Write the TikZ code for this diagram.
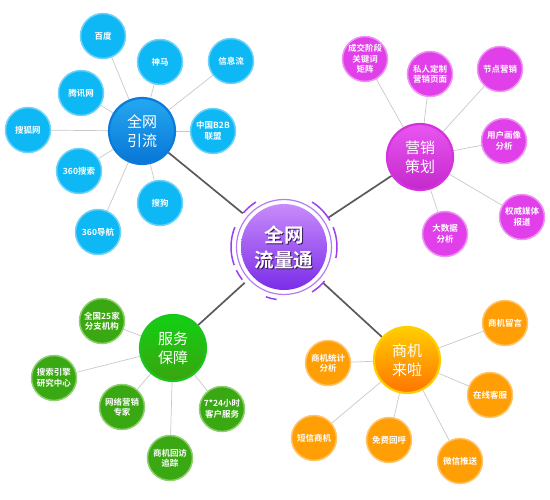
\documentclass[tikz,border=0pt]{standalone}
\usepackage{fontspec}
\usetikzlibrary{backgrounds}
\newfontfamily\cjk{Noto Sans CJK SC}[BoldFont={Noto Sans CJK SC Bold}]
\definecolor{bleafc}{HTML}{0DB8F5}
\definecolor{bringc}{HTML}{6FD2F8}
\definecolor{pleafc}{HTML}{E13FE9}
\definecolor{pringc}{HTML}{EE92F3}
\definecolor{gleafc}{HTML}{3AA812}
\definecolor{gringc}{HTML}{8ECF6E}
\definecolor{oleafc}{HTML}{FF9E05}
\definecolor{oringc}{HTML}{FFC56A}
\definecolor{linec}{HTML}{C8C8C8}
\definecolor{darkc}{HTML}{5A5A5A}
\definecolor{ctop}{HTML}{C88BFB}
\definecolor{cbot}{HTML}{7A2DE8}
\definecolor{cring}{HTML}{B57AF4}
\definecolor{carc}{HTML}{9A3EEE}
\definecolor{cshad}{HTML}{3A1A5A}
\definecolor{hbdraw}{HTML}{0B7ADA}
\definecolor{hbtop}{HTML}{24A8F1}
\definecolor{hbbot}{HTML}{0876D6}
\definecolor{hpdraw}{HTML}{D432DC}
\definecolor{hptop}{HTML}{E856F0}
\definecolor{hpbot}{HTML}{C428CC}
\definecolor{hgdraw}{HTML}{1EC41E}
\definecolor{hgtop}{HTML}{12D012}
\definecolor{hgbot}{HTML}{3AA410}
\definecolor{hodraw}{HTML}{FFCE00}
\definecolor{hotop}{HTML}{FFCE00}
\definecolor{hobot}{HTML}{FF7400}
\tikzset{
  leaf/.style={circle, minimum size=45pt, inner sep=0pt, text=white, align=center,
    font=\cjk\bfseries\fontsize{8.5}{10.5}\selectfont, line width=1.5pt},
  bleaf/.style={leaf, fill=bleafc, draw=bringc},
  pleaf/.style={leaf, fill=pleafc, draw=pringc},
  gleaf/.style={leaf, fill=gleafc, draw=gringc},
  oleaf/.style={leaf, fill=oleafc, draw=oringc},
  hub/.style={circle, minimum size=66pt, inner sep=0pt, text=white, align=center,
    font=\cjk\fontsize{15}{19}\selectfont, line width=2.2pt},
  thinlink/.style={draw=linec, line width=0.7pt},
  thicklink/.style={draw=darkc, line width=1.7pt},
  ctext/.style={align=center, inner sep=0pt, font=\cjk\bfseries\fontsize{19.5}{25}\selectfont}
}
\begin{document}
\begin{tikzpicture}[x=1pt,y=-1pt]
\useasboundingbox (0,0) rectangle (550,500);

% hubs
\node[hub, draw=hbdraw, top color=hbtop, bottom color=hbbot] (hb) at (142,131) {全网\\引流};
\node[hub, draw=hpdraw, top color=hptop, bottom color=hpbot] (hp) at (420,157) {营销\\策划};
\node[hub, draw=hgdraw, top color=hgtop, bottom color=hgbot] (hg) at (173,348) {服务\\保障};
\node[hub, draw=hodraw, top color=hotop, bottom color=hobot] (ho) at (407,360) {商机\\来啦};

% central
\node[circle, minimum size=106pt, inner sep=0pt] (c) at (284,247) {};
\shade[top color=ctop, bottom color=cbot] (c.center) circle[radius=43pt];
\draw[cring, line width=1.2pt] (c.center) circle[radius=47.5pt];
\foreach \a/\b in {30/58, -12/22, -58/-40, 158/200, 206/218, 122/140, 250/262}
  \draw[carc, line width=1.5pt] ([shift={(c.center)}] \a:53pt) arc[start angle=\a, end angle=\b, radius=53pt];
\node[ctext, text=cshad] (cshadow) at ([shift={(1.2pt,-1.2pt)}] c.center) {全网\\流量通};
\node[ctext, text=white] (ct) at (c.center) {全网\\流量通};

% blue leaves
\node[bleaf] (b1) at (103,36) {百度};
\node[bleaf] (b2) at (160,62) {神马};
\node[bleaf] (b3) at (231,61) {信息流};
\node[bleaf] (b4) at (81,93) {腾讯网};
\node[bleaf] (b5) at (213,131) {中国B2B\\联盟};
\node[bleaf] (b6) at (28,130) {搜狐网};
\node[bleaf] (b7) at (79,171) {360搜索};
\node[bleaf] (b8) at (160,203) {搜狗};
\node[bleaf] (b9) at (98,232) {360导航};

% purple leaves
\node[pleaf] (p1) at (365,59) {成交阶段\\关键词\\矩阵};
\node[pleaf] (p2) at (430,74) {私人定制\\营销页面};
\node[pleaf] (p3) at (500,69) {节点营销};
\node[pleaf] (p4) at (504,141) {用户画像\\分析};
\node[pleaf] (p5) at (522,217) {权威媒体\\报道};
\node[pleaf] (p6) at (445,234) {大数据\\分析};

% green leaves
\node[gleaf] (g1) at (102,321) {全国25家\\分支机构};
\node[gleaf] (g2) at (54,378) {搜索引擎\\研究中心};
\node[gleaf] (g3) at (122,407) {网络营销\\专家};
\node[gleaf] (g4) at (170,458) {商机回访\\追踪};
\node[gleaf] (g5) at (222,409) {7*24小时\\客户服务};

% orange leaves
\node[oleaf] (o1) at (505,323) {商机留言};
\node[oleaf] (o2) at (328,363) {商机统计\\分析};
\node[oleaf] (o3) at (490,395) {在线客服};
\node[oleaf] (o4) at (314,438) {短信商机};
\node[oleaf] (o5) at (389,440) {免费回呼};
\node[oleaf] (o6) at (460,461) {微信推送};

% links
\begin{scope}[on background layer]
\foreach \h in {hb,hp,hg,ho} \draw[thicklink] (c) -- (\h);
\foreach \l in {b1,b2,b3,b4,b5,b6,b7,b8,b9} \draw[thinlink] (hb) -- (\l);
\foreach \l in {p1,p2,p3,p4,p5,p6} \draw[thinlink] (hp) -- (\l);
\foreach \l in {g1,g2,g3,g4,g5} \draw[thinlink] (hg) -- (\l);
\foreach \l in {o1,o2,o3,o4,o5,o6} \draw[thinlink] (ho) -- (\l);
\end{scope}
\end{tikzpicture}
\end{document}
